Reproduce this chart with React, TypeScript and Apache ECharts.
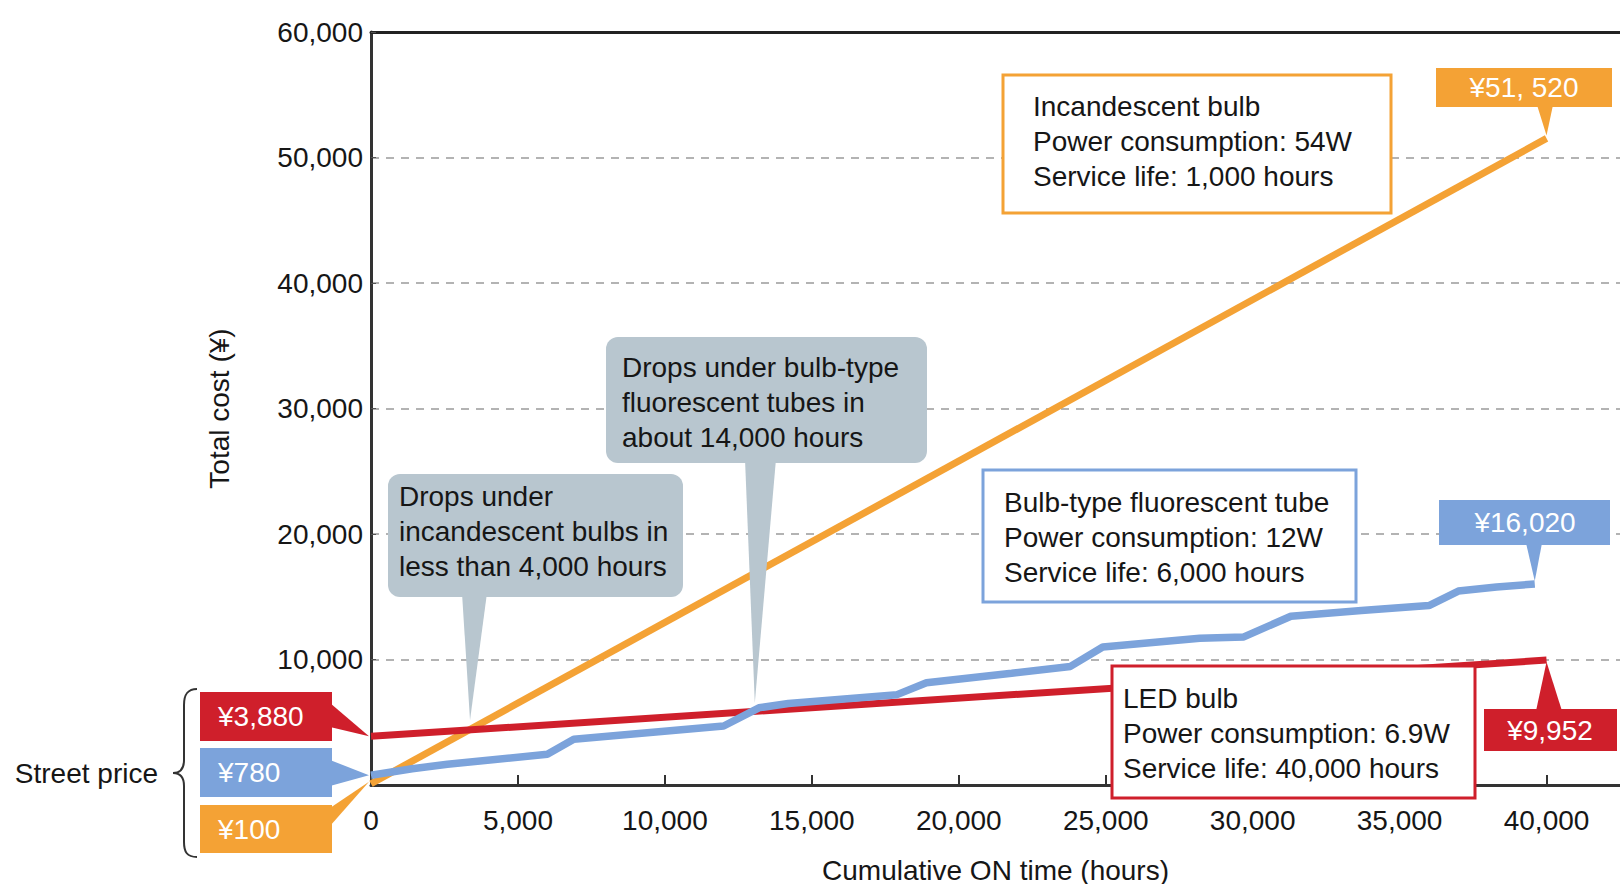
import React, { useEffect, useRef } from "react";
import * as echarts from "echarts";

// ---------- data ----------
const incandescentCost: number[][] = [
  [0, 100],
  [40000, 51520],
];
const ledCost: number[][] = [
  [0, 3880],
  [40000, 9952],
];
const fluorescentCost: number[][] = [
  [0, 780],
  [1400, 1300],
  [2600, 1650],
  [6000, 2450],
  [6900, 3650],
  [12000, 4700],
  [13200, 6150],
  [14200, 6500],
  [17900, 7200],
  [18900, 8150],
  [21800, 8900],
  [23800, 9450],
  [24900, 11000],
  [28200, 11700],
  [29700, 11800],
  [31300, 13450],
  [33700, 13900],
  [36000, 14300],
  [37000, 15450],
  [38300, 15780],
  [39600, 16020],
];

const seriesNames = ["Incandescent bulb", "LED bulb", "Bulb-type fluorescent tube"];
const incandescentInfo = ["Incandescent bulb", "Power consumption: 54W", "Service life: 1,000 hours"];
const fluorescentInfo = ["Bulb-type fluorescent tube", "Power consumption: 12W", "Service life: 6,000 hours"];
const ledInfo = ["LED bulb", "Power consumption: 6.9W", "Service life: 40,000 hours"];
const noteIncandescent = ["Drops under", "incandescent bulbs in", "less than 4,000 hours"];
const noteFluorescent = ["Drops under bulb-type", "fluorescent tubes in", "about 14,000 hours"];
const noteTips: number[][] = [
  [3370, 5180],
  [13060, 6530],
];
const streetPriceTitle = "Street price";
const streetPriceLabels = ["¥3,880", "¥780", "¥100"];
const endPriceLabels = ["¥51, 520", "¥16,020", "¥9,952"];
const xAxisTitle = "Cumulative ON time (hours)";
const yAxisTitle = "Total cost (¥)";

// ---------- styles ----------
const ORANGE = "#F4A235";
const RED = "#CF1F2B";
const BLUE = "#7CA3DB";
const GRAYBUBBLE = "#B8C6CF";
const INK = "#161616";
const FONT = '"Liberation Sans", Arial, Helvetica, sans-serif';
const FS = 28;

const fmt = (v: number) => v.toLocaleString("en-US");

function text(x: number, y: number, s: string, extra: any = {}) {
  return {
    type: "text",
    x,
    y,
    z: 130,
    style: {
      text: s,
      fill: INK,
      fontSize: FS,
      fontFamily: FONT,
      align: "left",
      verticalAlign: "middle",
      ...extra,
    },
  };
}

function infoBox(x: number, y: number, w: number, h: number, color: string, lines: string[], tx: number, ty: number, dy: number) {
  const out: any[] = [
    {
      type: "rect",
      z: 110,
      shape: { x, y, width: w, height: h },
      style: { fill: "#fff", stroke: color, lineWidth: 3 },
    },
  ];
  lines.forEach((l, i) => out.push(text(tx, ty + i * dy, l)));
  return out;
}

function bubble(x: number, y: number, w: number, h: number, tailL: number, tailR: number, tip: number[], lines: string[], tx: number, ty: number, dy: number) {
  const out: any[] = [
    {
      type: "polygon",
      z: 110,
      shape: { points: [[tailL, y + h - 4], [tailR, y + h - 4], [tip[0], tip[1]]] },
      style: { fill: GRAYBUBBLE },
    },
    {
      type: "rect",
      z: 111,
      shape: { x, y, width: w, height: h, r: 12 },
      style: { fill: GRAYBUBBLE },
    },
  ];
  lines.forEach((l, i) => out.push(text(tx, ty + i * dy, l)));
  return out;
}

function tag(x: number, y: number, w: number, h: number, color: string, label: string, pointer: number[][], align: "left" | "center", tx: number) {
  return [
    { type: "polygon", z: 115, shape: { points: pointer }, style: { fill: color } },
    { type: "rect", z: 116, shape: { x, y, width: w, height: h }, style: { fill: color } },
    text(tx, y + h / 2, label, { fill: "#fff", align, fontSize: 28 }),
  ];
}

function buildGraphics(px: (x: number, y: number) => number[]) {
  const g: any[] = [];
  // info boxes
  g.push(...infoBox(1003, 75, 388, 138, ORANGE, incandescentInfo, 1033, 106, 35));
  g.push(...infoBox(983, 470, 373, 132, BLUE, fluorescentInfo, 1004, 502, 35));
  g.push(...infoBox(1112, 666, 363, 132, RED, ledInfo, 1123, 698, 35));

  // notes
  const t1 = px(noteTips[0][0], noteTips[0][1]);
  const t2 = px(noteTips[1][0], noteTips[1][1]);
  g.push(...bubble(388, 474, 295, 123, 462, 487, t1, noteIncandescent, 399, 496, 35));
  g.push(...bubble(606, 337, 321, 126, 745, 776, t2, noteFluorescent, 622, 367, 35));

  // end price tags
  const e1 = px(incandescentCost[1][0], incandescentCost[1][1]);
  const e2 = px(fluorescentCost[fluorescentCost.length - 1][0], fluorescentCost[fluorescentCost.length - 1][1]);
  const e3 = px(ledCost[1][0], ledCost[1][1]);
  g.push(...tag(1436, 68, 176, 39, ORANGE, endPriceLabels[0], [[1537, 105], [1553, 105], [e1[0], e1[1] - 3]], "center", 1524));
  g.push(...tag(1439, 500, 171, 45, BLUE, endPriceLabels[1], [[1526, 543], [1542, 543], [e2[0], e2[1] - 3]], "center", 1525));
  g.push(...tag(1484, 709, 133, 42, RED, endPriceLabels[2], [[1536, 711], [1562, 711], [e3[0], e3[1] + 2]], "center", 1550));

  // street price tags
  const s1 = px(ledCost[0][0], ledCost[0][1]);
  const s2 = px(fluorescentCost[0][0], fluorescentCost[0][1]);
  const s3 = px(incandescentCost[0][0], incandescentCost[0][1]);
  g.push(...tag(200, 692, 132, 49, RED, streetPriceLabels[0], [[330, 703], [330, 727], [s1[0] - 2, s1[1]]], "left", 218));
  g.push(...tag(200, 748, 132, 49, BLUE, streetPriceLabels[1], [[330, 760], [330, 786], [s2[0] - 2, s2[1]]], "left", 218));
  g.push(...tag(200, 805, 132, 48, ORANGE, streetPriceLabels[2], [[330, 808], [330, 826], [s3[0] - 2, s3[1] - 2]], "left", 218));

  // brace
  const braceStyle = { stroke: "#333", lineWidth: 2, fill: "none" };
  const bx = 184;
  g.push(
    { type: "bezierCurve", z: 120, shape: { x1: 197, y1: 689, cpx1: 187, cpy1: 689, cpx2: bx, cpy2: 695, x2: bx, y2: 705 }, style: braceStyle },
    { type: "line", z: 120, shape: { x1: bx, y1: 705, x2: bx, y2: 760 }, style: braceStyle },
    { type: "bezierCurve", z: 120, shape: { x1: bx, y1: 760, cpx1: bx, cpy1: 769, cpx2: 180, cpy2: 773, x2: 173, y2: 773 }, style: braceStyle },
    { type: "bezierCurve", z: 120, shape: { x1: 173, y1: 773, cpx1: 180, cpy1: 773, cpx2: bx, cpy2: 777, x2: bx, y2: 786 }, style: braceStyle },
    { type: "line", z: 120, shape: { x1: bx, y1: 786, x2: bx, y2: 842 }, style: braceStyle },
    { type: "bezierCurve", z: 120, shape: { x1: bx, y1: 842, cpx1: bx, cpy1: 852, cpx2: 187, cpy2: 857, x2: 197, y2: 857 }, style: braceStyle }
  );
  g.push(text(158, 773, streetPriceTitle, { align: "right", fontSize: 28 }));
  return g;
}

export default function App() {
  const ref = useRef<HTMLDivElement>(null);
  useEffect(() => {
    if (!ref.current) return;
    const chart = echarts.init(ref.current, null, { renderer: "svg" });
    const axisText = { color: INK, fontSize: FS, fontFamily: FONT };
    chart.setOption({
      animation: false,
      backgroundColor: "#fff",
      grid: { left: 371, right: 0, top: 32, bottom: 99, containLabel: false, outerBoundsMode: "none" },
      xAxis: [
        {
          type: "value",
          min: 0,
          max: 42500,
          interval: 5000,
          name: xAxisTitle,
          nameLocation: "middle",
          nameGap: 71,
          nameTextStyle: { ...axisText, fontSize: 28 },
          axisLine: { show: true, lineStyle: { color: "#333", width: 3 } },
          axisTick: { show: true, inside: true, length: 10, lineStyle: { color: "#333", width: 2 } },
          axisLabel: {
            ...axisText,
            margin: 21,
            showMaxLabel: false,
            formatter: (v: number) => (v % 5000 === 0 && v <= 40000 ? fmt(v) : ""),
          },
          splitLine: { show: false },
        },
        {
          type: "value",
          position: "top",
          min: 0,
          max: 42500,
          axisLine: { show: true, lineStyle: { color: "#222", width: 3 } },
          axisTick: { show: false },
          axisLabel: { show: false },
          splitLine: { show: false },
        },
      ],
      yAxis: {
        type: "value",
        min: 0,
        max: 60000,
        interval: 10000,
        name: yAxisTitle,
        nameLocation: "middle",
        nameGap: 138,
        nameRotate: 90,
        nameTextStyle: { ...axisText, fontSize: 28 },
        axisLine: { show: true, lineStyle: { color: "#333", width: 3 } },
        axisTick: { show: true, inside: true, length: 5, lineStyle: { color: "#555", width: 1 } },
        axisLabel: { ...axisText, margin: 8, showMinLabel: false, formatter: (v: number) => fmt(v) },
        splitLine: { show: true, lineStyle: { color: "#9a9a9a", width: 1.5, type: [8, 7] } },
      },
      series: [
        {
          name: seriesNames[0],
          type: "line",
          data: incandescentCost,
          symbol: "none",
          lineStyle: { color: ORANGE, width: 7 },
          itemStyle: { color: ORANGE },
          z: 3,
        },
        {
          name: seriesNames[1],
          type: "line",
          data: ledCost,
          symbol: "none",
          lineStyle: { color: RED, width: 7 },
          itemStyle: { color: RED },
          z: 4,
        },
        {
          name: seriesNames[2],
          type: "line",
          data: fluorescentCost,
          symbol: "none",
          lineStyle: { color: BLUE, width: 7.5 },
          itemStyle: { color: BLUE },
          z: 5,
        },
      ],
    });
    const px = (x: number, y: number) => chart.convertToPixel({ seriesIndex: 0 }, [x, y]) as number[];
    chart.setOption({ graphic: buildGraphics(px) });
    return () => chart.dispose();
  }, []);
  return (
    <div
      ref={ref}
      style={{ position: "fixed", left: 0, top: 0, width: 1620, height: 884, background: "#fff" }}
    />
  );
}
